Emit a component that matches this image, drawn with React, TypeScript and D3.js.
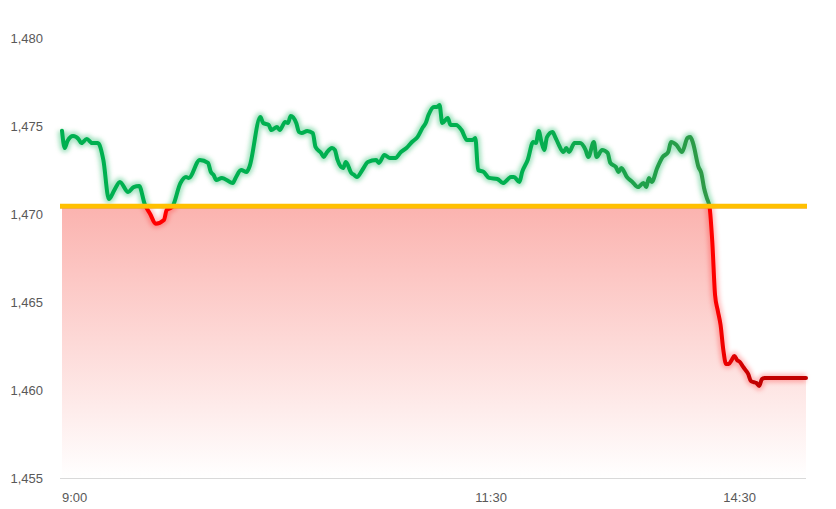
import React from 'react';
import * as d3 from 'd3';

const minutes = [
  0, 1, 2, 4, 6, 7, 9, 11, 13, 15, 17, 19, 21, 24, 26, 28, 30, 32, 34, 37, 38, 40,
  43, 45, 46, 50, 53, 54, 55, 56, 58, 62, 63, 65, 67, 68, 72, 73, 75, 76, 78, 79,
  81, 82, 83, 85, 86, 87, 89, 91, 92, 94, 95, 96, 98, 99, 100, 102, 103, 105, 106,
  107, 109, 111, 114, 115, 117, 119, 121, 123, 125, 127, 129, 131, 132, 133, 135,
  136, 137, 138, 140, 141, 143, 145, 147, 149, 150, 151, 153, 155, 158, 160, 163,
  164, 166, 167, 169, 171, 172, 173, 174, 175, 176, 178, 179, 180, 182, 183, 184,
  186, 188, 190, 191, 193, 194, 196, 198, 199, 201, 202, 203, 205, 207, 209, 211,
  212, 213, 214, 216, 218, 220, 221, 223, 225, 227, 228, 229, 231, 232, 233, 234,
  235, 236, 237, 238, 239, 240, 241, 242, 243, 244, 245, 246, 247, 248, 249, 250,
  251, 252, 253, 254, 255, 270,
];

const prices = [
  1474.73, 1473.75, 1474.15, 1474.43, 1474.26, 1474.03, 1474.26, 1474.03, 1474.03,
  1473.07, 1470.85, 1471.36, 1471.82, 1471.25, 1471.53, 1471.59, 1470.57, 1470.0,
  1469.45, 1469.66, 1470.23, 1470.4, 1471.76, 1472.1, 1472.05, 1473.07, 1472.9,
  1472.39, 1472.22, 1471.93, 1472.05, 1471.76, 1472.05, 1472.5, 1472.39, 1472.67,
  1475.51, 1475.17, 1475.06, 1474.77, 1474.94, 1474.77, 1475.23, 1475.17, 1475.57,
  1475.17, 1474.66, 1474.6, 1474.72, 1474.6, 1473.81, 1473.47, 1473.24, 1473.47,
  1473.75, 1473.64, 1473.07, 1472.61, 1472.95, 1472.33, 1472.22, 1472.1, 1472.5,
  1472.95, 1473.07, 1472.9, 1473.35, 1473.18, 1473.18, 1473.52, 1473.75, 1474.09,
  1474.37, 1474.94, 1475.17, 1475.62, 1476.08, 1476.08, 1476.19, 1475.17, 1475.45,
  1475.06, 1475.06, 1474.77, 1474.2, 1474.2, 1474.32, 1472.5, 1472.39, 1472.05,
  1471.99, 1471.76, 1472.1, 1472.1, 1471.82, 1472.39, 1473.07, 1474.09, 1474.03,
  1474.72, 1474.09, 1473.64, 1474.37, 1474.66, 1474.37, 1474.03, 1473.52, 1473.75,
  1473.52, 1474.03, 1474.03, 1473.64, 1473.24, 1474.09, 1473.24, 1473.64, 1473.47,
  1472.9, 1472.67, 1472.39, 1472.61, 1472.1, 1471.82, 1471.53, 1471.76, 1471.53,
  1472.05, 1471.82, 1472.61, 1473.24, 1473.52, 1474.09, 1473.92, 1473.52, 1474.32,
  1474.37, 1474.03, 1472.67, 1472.33, 1471.48, 1470.91, 1470.4, 1468.4, 1465.39,
  1464.5, 1463.69, 1462.27, 1461.48, 1461.48, 1461.7, 1461.93, 1461.7, 1461.59,
  1461.36, 1461.14, 1460.91, 1460.51, 1460.45, 1460.4, 1460.23, 1460.62, 1460.68,
  1460.68,
];

const baseline = 1470.45;
const yTicks = [1455, 1460, 1465, 1470, 1475, 1480];
const xTickMinutes = [0, 150, 240];
const xTickLabels = ['9:00', '11:30', '14:30'];

export default function App() {
  const W = 836;
  const H = 509;
  const x = d3.scaleLinear().domain([0, 270]).range([62, 806]);
  const y = d3.scaleLinear().domain([1455, 1480]).range([478, 38]);
  const data = minutes.map((m, i) => ({ m, v: prices[i] }));
  const line = d3
    .line<{ m: number; v: number }>()
    .x((d) => x(d.m))
    .y((d) => y(d.v))
    .curve(d3.curveMonotoneX);
  const area = d3
    .area<{ m: number; v: number }>()
    .x((d) => x(d.m))
    .y0(y(1455))
    .y1((d) => y(d.v))
    .curve(d3.curveMonotoneX);
  const yb = y(baseline);
  const fmt = d3.format(',');
  const linePath = line(data) || '';

  return (
    <svg width={W} height={H} style={{ position: 'absolute', left: 0, top: 0 }}>
      <defs>
        <clipPath id="clipAbove">
          <rect x={0} y={0} width={W} height={yb} />
        </clipPath>
        <clipPath id="clipBelow">
          <rect x={0} y={yb} width={W} height={H - yb} />
        </clipPath>
        <linearGradient id="fillGrad" gradientUnits="userSpaceOnUse" x1={0} y1={yb} x2={0} y2={y(1455)}>
          <stop offset="0" stopColor="#fbb3af" />
          <stop offset="1" stopColor="#ffffff" />
        </linearGradient>
        <linearGradient id="greenGrad" gradientUnits="userSpaceOnUse" x1={x(0)} y1={0} x2={x(270)} y2={0}>
          <stop offset="0" stopColor="#00b050" />
          <stop offset="0.62" stopColor="#00b050" />
          <stop offset="0.86" stopColor="#2e9a48" />
          <stop offset="1" stopColor="#2e9a48" />
        </linearGradient>
        <linearGradient id="redGrad" gradientUnits="userSpaceOnUse" x1={x(0)} y1={0} x2={x(270)} y2={0}>
          <stop offset="0" stopColor="#ff0000" />
          <stop offset="0.875" stopColor="#ff0000" />
          <stop offset="0.93" stopColor="#c00000" />
          <stop offset="1" stopColor="#c00000" />
        </linearGradient>
        <filter id="blur" filterUnits="userSpaceOnUse" x={0} y={0} width={W} height={H}>
          <feGaussianBlur stdDeviation="2" />
        </filter>
      </defs>

      <path d={area(data) || ''} fill="url(#fillGrad)" clipPath="url(#clipBelow)" />

      <g clipPath="url(#clipAbove)">
        <path d={linePath} fill="none" stroke="#00b050" strokeOpacity={0.35} strokeWidth={9} filter="url(#blur)" />
        <path d={linePath} fill="none" stroke="url(#greenGrad)" strokeWidth={4} strokeLinejoin="round" strokeLinecap="round" />
      </g>
      <g clipPath="url(#clipBelow)">
        <path d={linePath} fill="none" stroke="#ff0000" strokeOpacity={0.25} strokeWidth={9} filter="url(#blur)" />
        <path d={linePath} fill="none" stroke="url(#redGrad)" strokeWidth={4} strokeLinejoin="round" strokeLinecap="round" />
      </g>

      <line x1={60} x2={807} y1={yb + 2.3} y2={yb + 2.3} stroke="#f0a020" strokeWidth={1} strokeOpacity={0.7} />
      <line x1={60} x2={807} y1={yb} y2={yb} stroke="#ffc000" strokeWidth={4.5} />

      <line x1={60} x2={806} y1={y(1455) + 0.5} y2={y(1455) + 0.5} stroke="#d9d9d9" strokeWidth={1} />

      {yTicks.map((t) => (
        <text
          key={t}
          x={43}
          y={y(t)}
          textAnchor="end"
          dominantBaseline="central"
          fontFamily="'Liberation Sans', Arial, sans-serif"
          fontSize={13}
          fill="#595959"
        >
          {fmt(t)}
        </text>
      ))}
      {xTickMinutes.map((m, i) => (
        <text
          key={m}
          x={x(m)}
          y={502}
          textAnchor="start"
          fontFamily="'Liberation Sans', Arial, sans-serif"
          fontSize={13}
          fill="#595959"
        >
          {xTickLabels[i]}
        </text>
      ))}
    </svg>
  );
}
